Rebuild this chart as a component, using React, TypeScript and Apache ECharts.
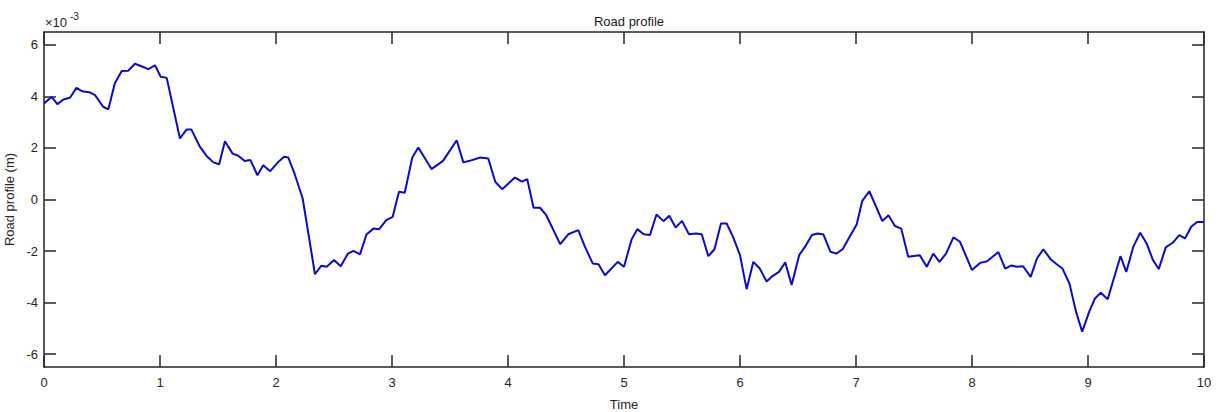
import React, { useEffect, useRef } from "react";
import * as echarts from "echarts";

const times: number[] = [
  0, 0.066, 0.115, 0.167, 0.224, 0.28, 0.33, 0.4, 0.44, 0.51, 0.555, 0.61, 0.67, 0.727, 0.784, 0.84, 0.9, 0.957,
  1.006, 1.058, 1.172, 1.23, 1.27, 1.345, 1.4, 1.46, 1.51, 1.56, 1.626, 1.675, 1.73, 1.78, 1.84, 1.89, 1.95,
  2.02, 2.07, 2.106, 2.16, 2.23, 2.336, 2.39, 2.437, 2.5, 2.558, 2.62, 2.667, 2.724, 2.78, 2.84, 2.89, 2.95,
  3.006, 3.06, 3.11, 3.175, 3.227, 3.34, 3.44, 3.558, 3.615, 3.67, 3.76, 3.83, 3.89, 3.95,
  4.06, 4.12, 4.166, 4.22, 4.276, 4.33, 4.45, 4.52, 4.606, 4.66, 4.73, 4.78, 4.836, 4.946,
  5.0, 5.066, 5.115, 5.17, 5.224, 5.28, 5.34, 5.39, 5.445, 5.5, 5.56, 5.62, 5.67, 5.727, 5.78, 5.836, 5.885, 5.94,
  6.0, 6.057, 6.115, 6.17, 6.23, 6.28, 6.336, 6.39, 6.445, 6.51, 6.56, 6.62, 6.67, 6.72, 6.78, 6.83, 6.885, 6.95,
  7.006, 7.054, 7.115, 7.17, 7.227, 7.28, 7.336, 7.39, 7.45, 7.5, 7.55, 7.61, 7.666, 7.72, 7.776, 7.84, 7.896,
  8.0, 8.07, 8.13, 8.227, 8.286, 8.34, 8.385, 8.44, 8.506, 8.56, 8.615, 8.68, 8.73, 8.78, 8.84, 8.897, 8.95,
  9.01, 9.06, 9.11, 9.17, 9.227, 9.28, 9.33, 9.39, 9.45, 9.506, 9.56, 9.61, 9.67, 9.73, 9.787, 9.836, 9.89, 9.94,
  10.0,
];

// Road profile in units of 1e-3 m
const profile: number[] = [
  3.73, 3.98, 3.7, 3.88, 3.95, 4.33, 4.2, 4.15, 4.05, 3.6, 3.5, 4.5, 4.99, 5.0, 5.27, 5.17, 5.06, 5.21,
  4.76, 4.72, 2.37, 2.72, 2.72, 2.04, 1.7, 1.44, 1.37, 2.26, 1.78, 1.7, 1.49, 1.53, 0.94, 1.33, 1.1,
  1.46, 1.66, 1.63, 1.0, 0.04, -2.9, -2.57, -2.61, -2.35, -2.59, -2.1, -1.99, -2.13, -1.36, -1.13, -1.15, -0.8,
  -0.67, 0.3, 0.26, 1.63, 2.02, 1.18, 1.5, 2.3, 1.44, 1.5, 1.63, 1.59, 0.69, 0.4,
  0.85, 0.69, 0.79, -0.32, -0.32, -0.61, -1.73, -1.35, -1.19, -1.8, -2.48, -2.51, -2.94, -2.42,
  -2.61, -1.54, -1.15, -1.35, -1.38, -0.58, -0.84, -0.63, -1.09, -0.83, -1.35, -1.32, -1.35, -2.2, -1.93, -0.93, -0.93, -1.45,
  -2.16, -3.48, -2.42, -2.68, -3.18, -2.97, -2.81, -2.44, -3.32, -2.16, -1.84, -1.38, -1.32, -1.36, -2.03, -2.1, -1.93, -1.41,
  -0.97, -0.05, 0.32, -0.25, -0.84, -0.61, -1.03, -1.13, -2.22, -2.19, -2.16, -2.61, -2.1, -2.42, -2.1, -1.47, -1.64,
  -2.74, -2.46, -2.4, -2.04, -2.68, -2.56, -2.61, -2.59, -3.0, -2.29, -1.93, -2.33, -2.51, -2.68, -3.26, -4.36, -5.13,
  -4.36, -3.84, -3.62, -3.87, -3.0, -2.2, -2.81, -1.84, -1.29, -1.71, -2.35, -2.7, -1.86, -1.68, -1.38, -1.51, -1.06, -0.87,
  -0.87,
];

const xRange = { min: 0, max: 10, interval: 1 };
const yRange = { min: -6.5, max: 6.5 };
const yTickValues: number[] = [-6, -4, -2, 0, 2, 4, 6];

const titleText = "Road profile";
const xName = "Time";
const yName = "Road profile (m)";

export default function App() {
  const ref = useRef<HTMLDivElement>(null);

  useEffect(() => {
    if (!ref.current) return;
    const chart = echarts.init(ref.current, undefined, { renderer: "svg" });
    const axisColor = "#262626";
    const font = "Liberation Sans, Arial, Helvetica, sans-serif";
    const data = times.map((t, i) => [t, profile[i]]);

    const lineStyle = { color: axisColor, width: 1.5 };

    const baseX = {
      type: "value" as const,
      min: xRange.min,
      max: xRange.max,
      interval: xRange.interval,
      splitLine: { show: false },
      axisLine: { show: true, onZero: false, lineStyle },
      axisTick: { show: true, inside: true, length: 12, lineStyle },
    };
    const baseY = {
      type: "value" as const,
      min: yRange.min,
      max: yRange.max,
      splitLine: { show: false },
      axisLine: { show: true, onZero: false, lineStyle },
      axisTick: { show: true, inside: true, length: 12, customValues: yTickValues, lineStyle },
    };

    chart.setOption({
      animation: false,
      backgroundColor: "#ffffff",
      title: {
        text: titleText,
        left: 624,
        textAlign: "center",
        top: 10,
        textStyle: { fontFamily: font, fontSize: 13, fontWeight: "normal", color: "#1a1a1a" },
      },
      grid: { left: 44, top: 32, width: 1160, height: 335, show: false, outerBoundsMode: "none", containLabel: false },
      xAxis: [
        {
          ...baseX,
          position: "bottom",
          name: xName,
          nameLocation: "middle",
          nameGap: 31,
          nameTextStyle: { fontFamily: font, fontSize: 13, color: axisColor },
          axisLabel: { show: true, margin: 9, fontFamily: font, fontSize: 13, color: axisColor },
        },
        {
          ...baseX,
          position: "top",
          axisLabel: { show: false },
        },
      ],
      yAxis: [
        {
          ...baseY,
          position: "left",
          name: yName,
          nameLocation: "middle",
          nameGap: 24,
          nameRotate: 90,
          nameTextStyle: { fontFamily: font, fontSize: 13, color: axisColor },
          axisLabel: {
            show: true,
            margin: 6,
            fontFamily: font,
            fontSize: 13,
            color: axisColor,
            customValues: yTickValues,
          },
        },
        {
          ...baseY,
          position: "right",
          axisLabel: { show: false },
        },
      ],
      graphic: [
        {
          type: "text",
          left: 45,
          top: 16,
          style: { text: "×10", fontFamily: font, fontSize: 13, fill: axisColor },
        },
        {
          type: "text",
          left: 70,
          top: 11,
          style: { text: "-3", fontFamily: font, fontSize: 10, fill: axisColor },
        },
      ],
      series: [
        {
          type: "line",
          xAxisIndex: 0,
          yAxisIndex: 0,
          data,
          showSymbol: false,
          symbol: "none",
          lineStyle: { color: "#0a0acd", width: 2 },
          clip: true,
        },
      ],
    });

    return () => chart.dispose();
  }, []);

  return (
    <div
      ref={ref}
      style={{ position: "fixed", left: 0, top: 0, width: 1225, height: 412, background: "#fff" }}
    />
  );
}
